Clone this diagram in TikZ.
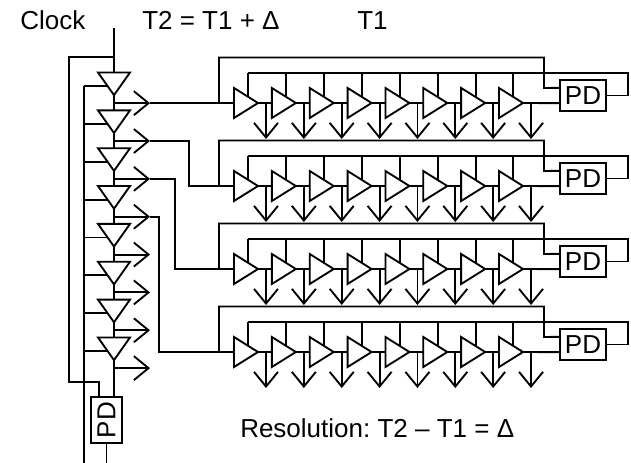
\documentclass[tikz,border=0pt]{standalone}
\usepackage{fontspec}
\setmainfont{Liberation Sans}
\usetikzlibrary{arrows.meta, calc, shapes.geometric}
\tikzset{
  wire/.style   = {line width=1.4pt},
  tap/.style    = {wire, -{Straight Barb[length=11pt, width=18pt, line width=1.4pt]}},
  buf/.style    = {draw, wire, isosceles triangle, isosceles triangle stretches,
                   inner sep=0pt, outer sep=0pt, anchor=lower side},
  rowbuf/.style = {buf, minimum width=22.5pt, minimum height=18pt},
  colbuf/.style = {buf, shape border rotate=270, minimum width=24pt, minimum height=17pt},
  pdbox/.style  = {draw, line width=1.1pt, inner sep=0pt, outer sep=0pt,
                   font=\fontsize{19.5}{21}\selectfont,
                   minimum width=34.5pt, minimum height=23pt},
  lab/.style    = {font=\fontsize{19.5}{22}\selectfont\frenchspacing, anchor=base west, inner sep=0pt},
}

\begin{document}
\begin{tikzpicture}[x=0.75pt, y=-0.75pt]
  \useasboundingbox (0,0) rectangle (631,463);
  \node[lab] (clocklab) at (20,30) {Clock};
  \node[lab] (difflab) at (142,30) {T2 = T1 + Δ};
  \node[lab] (t1lab) at (357,30) {T1};
  \node[lab] (reslab) at (240,437) {Resolution: T2 – T1 = Δ};

  % coarse delay line
  \coordinate (clk) at (114,28);
  \coordinate (ctltop) at (84,86);
  \foreach \i in {1,...,8}
    \node[colbuf] (d\i) at (114,72.5+\i*37.85-37.85) {};
  \node[pdbox, rotate=90] (pdc) at (106.5,420) {PD};
  \coordinate (ctlend) at (84,463);
  \coordinate (pdcout) at (106.5,463);
  \coordinate (fbk) at (69,57);
  \draw[wire] (clk) -- (d1.lower side);
  \draw[wire] (clk |- fbk) -- (fbk) |- (99,382) -- (99,397);
  \draw[wire] (ctltop) -- (ctlend);
  \draw[wire] (pdc.west) -- (pdcout);
  \foreach \i/\j in {1/2,2/3,3/4,4/5,5/6,6/7,7/8}
    \draw[wire] (d\i.apex) -- (d\j.lower side);
  \draw[wire] (d8.apex) -- (114,397);
  \foreach \i in {1,...,8}{
    \coordinate (ct\i) at ($(d\i.right corner)!0.6!(d\i.apex)$);
    \draw[wire] (ct\i) -- (ct\i -| ctltop);
    \coordinate (ta\i) at ($(d\i.apex)+(0,8)$);
    \coordinate (te\i) at ($(ta\i)+(36,0)$);
    \draw[tap] (ta\i) -- (te\i);
  }

  % fine rows
  \foreach \r/\y/\xb in {1/103/219,2/186/189,3/269/175,4/352/159}{
    \foreach \i in {1,...,8}
      \node[rowbuf] (b\r-\i) at (234+\i*37.86-37.86,\y) {};
    \foreach \i/\j in {1/2,2/3,3/4,4/5,5/6,6/7,7/8}
      \draw[wire] (b\r-\i.apex) -- (b\r-\j.lower side);
    \node[pdbox] (pd\r) at (583,\y-7.5) {PD};
    \coordinate (pi\r) at ($(pd\r.north west)!0.25!(pd\r.south west)$);
    \coordinate (pj\r) at ($(pd\r.north west)!0.75!(pd\r.south west)$);
    \coordinate (ou\r) at (219,\y-45.5);
    \coordinate (ov\r) at (544,\y-15);
    \coordinate (in\r) at (628,\y-30);
    \draw[wire] (219,\y) -- (ou\r) -| (ov\r) -- (pi\r);
    \draw[wire] (b\r-8.apex) -- (pj\r);
    \foreach \i in {1,...,8}{
      \coordinate (st\i) at ($(b\r-\i.left corner)!0.6!(b\r-\i.apex)$);
      \draw[wire] (st\i) -- (st\i |- in\r);
      \coordinate (ar\i) at ($(b\r-\i.apex)+(8,0)$);
      \draw[tap] (ar\i) -- ++(0,36);
    }
    \draw[wire] (st1 |- in\r) -- (in\r) |- (pd\r.east);
    \draw[wire] (te\r) -| (\xb,\y) -- (b\r-1.lower side);
  }
\end{tikzpicture}
\end{document}
